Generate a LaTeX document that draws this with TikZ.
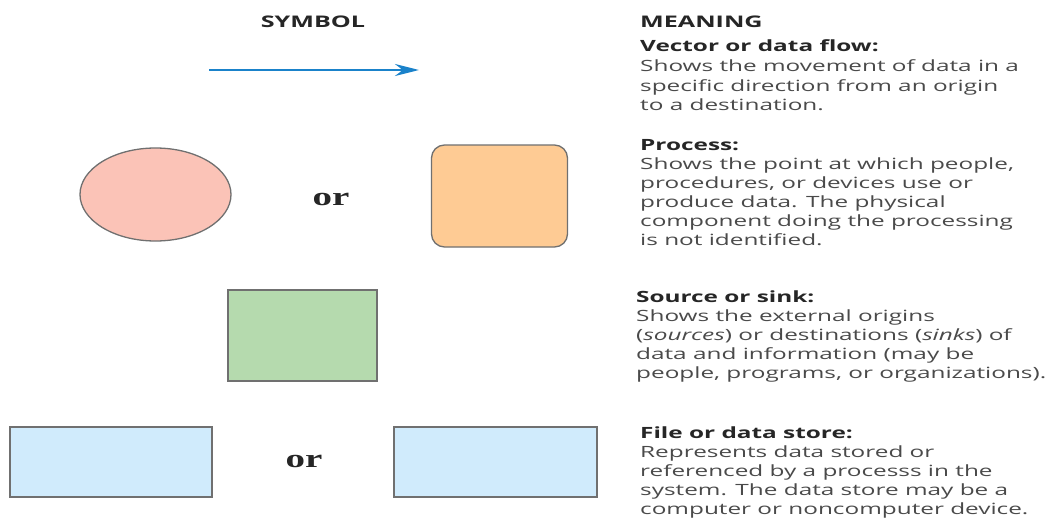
\documentclass[tikz,border=0pt]{standalone}
\usepackage{fontspec}
\setmainfont{Open Sans}[FakeStretch=1.57]
\newfontfamily\orfont{Liberation Serif}[FakeStretch=1.5]
\usetikzlibrary{arrows.meta,shapes.geometric}
\definecolor{bodygray}{HTML}{4A4A4A}
\definecolor{headgray}{HTML}{262626}
\definecolor{edgegray}{HTML}{707070}
\definecolor{flowblue}{HTML}{1A82CA}
\definecolor{procpink}{HTML}{FBC3B7}
\definecolor{procorange}{HTML}{FECB94}
\definecolor{sinkgreen}{HTML}{B5DAAE}
\definecolor{storeblue}{HTML}{D0EBFC}
\begin{document}
\begin{tikzpicture}[x=1pt,y=-1pt,
  shapeedge/.style={draw=edgegray,line width=1.3pt},
  body/.style={anchor=base west,inner sep=0pt,align=left,text=bodygray,
    font=\fontsize{15.5}{19.2}\selectfont},
  head/.style={anchor=base west,inner sep=0pt,text=headgray,
    font=\fontsize{15.5}{19.2}\selectfont\bfseries},
  colhead/.style={anchor=base,inner sep=0pt,text=headgray,
    font=\fontsize{16}{18}\selectfont\bfseries},
  ortext/.style={anchor=base,inner sep=0pt,text=headgray,
    font=\fontsize{26}{28}\selectfont\orfont\bfseries}]
\useasboundingbox[fill=white] (0,0) rectangle (1047,519);

% column headers
\node[colhead] (symhead) at (313,28) {SYMBOL};
\node[colhead,anchor=base west] (meanhead) at (640,28) {MEANING};

% data flow arrow
\coordinate (flowstart) at (209,70);
\coordinate (flowend) at (419,70);
\draw[flowblue,line width=2.6pt,-{Stealth[length=24pt,width=12pt]}] (flowstart) -- (flowend);

% process symbols
\node[ellipse,shapeedge,fill=procpink,minimum width=151pt,minimum height=93pt,inner sep=0pt] (proccircle) at (155.5,194.5) {};
\node[ortext] (or1) at (331,205) {or};
\node[shapeedge,fill=procorange,rounded corners=13pt,minimum width=136pt,minimum height=102pt,inner sep=0pt] (procbox) at (499.5,196) {};

% source or sink
\node[shapeedge,fill=sinkgreen,minimum width=149pt,minimum height=91pt,inner sep=0pt] (sink) at (302.5,335.5) {};

% data store
\node[shapeedge,fill=storeblue,minimum width=202pt,minimum height=70pt,inner sep=0pt] (store1) at (111,462) {};
\node[ortext] (or2) at (304,467) {or};
\node[shapeedge,fill=storeblue,minimum width=203pt,minimum height=70pt,inner sep=0pt] (store2) at (495.5,462) {};

% meanings (base anchor = last line of a multi-line node)
\node[head] (h1) at (640,52) {Vector or data flow:};
\node[body] (b1) at (640,110.4) {Shows the movement of data in a\\specific direction from an origin\\to a destination.};

\node[head] (h2) at (640,150) {Process:};
\node[body] (b2) at (640,245.8) {Shows the point at which people,\\procedures, or devices use or\\produce data. The physical\\component doing the processing\\is not identified.};

\node[head] (h3) at (636,302) {Source or sink:};
\node[body] (b3) at (636,378.6) {Shows the external origins\\(\textit{sources}) or destinations (\textit{sinks}) of\\data and information (may be\\people, programs, or organizations).};

\node[head] (h4) at (640,438) {File or data store:};
\node[body] (b4) at (640,514.6) {Represents data stored or\\referenced by a processs in the\\system. The data store may be a\\computer or noncomputer device.};
\end{tikzpicture}
\end{document}
